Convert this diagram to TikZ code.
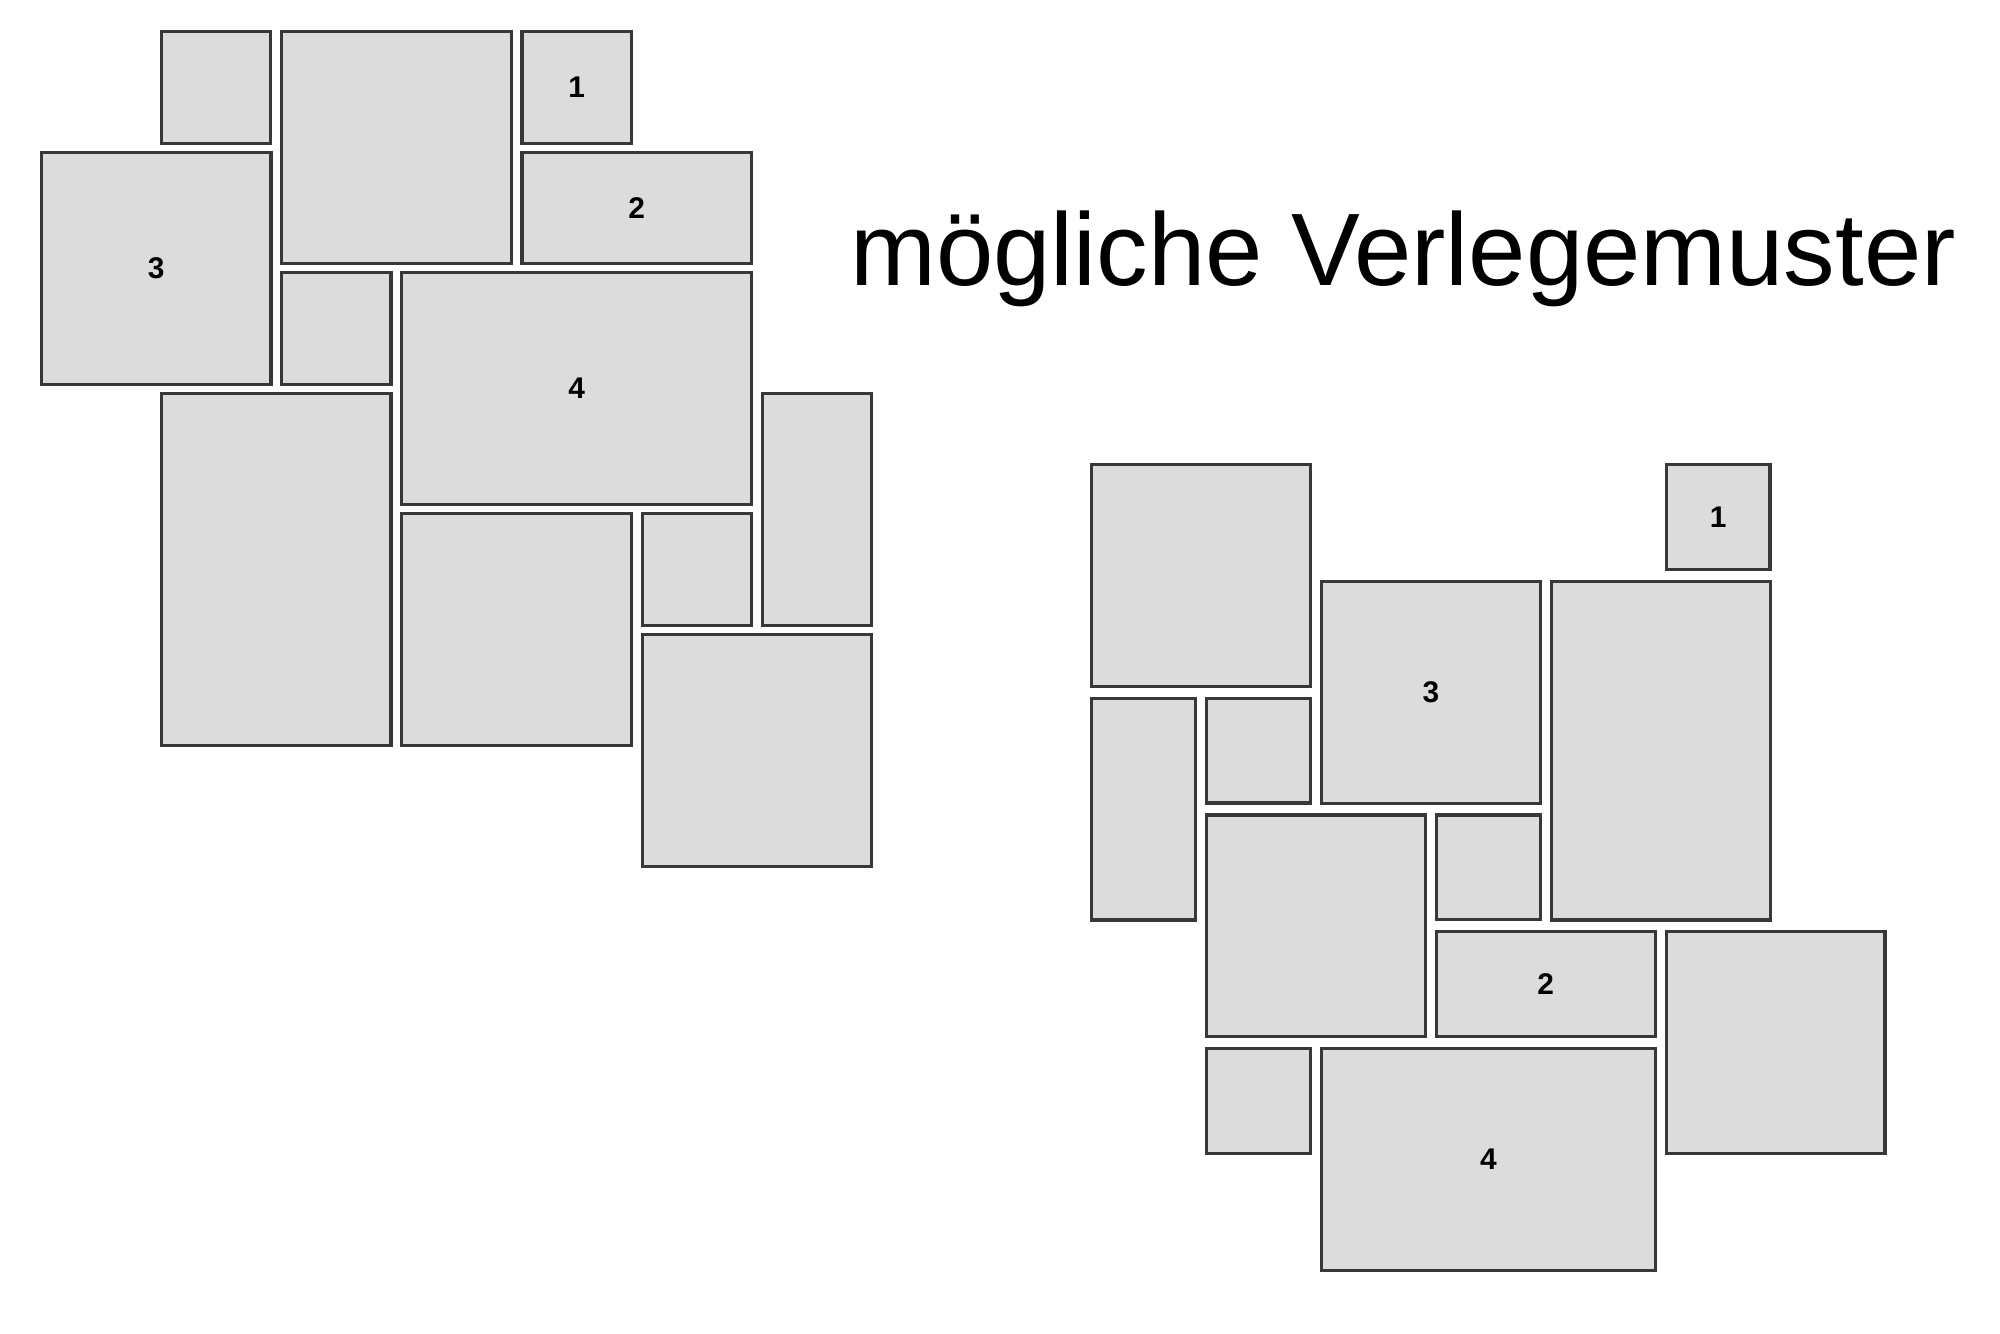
\documentclass[tikz,border=0pt]{standalone}
\usepackage{fontspec}
\setmainfont{Liberation Sans}
\definecolor{tilefill}{HTML}{DCDCDC}
\definecolor{tileline}{HTML}{383838}

\begin{document}
\begin{tikzpicture}[x=0.01cm,y=-0.01cm,
    tile/.style={rectangle,draw=tileline,fill=tilefill,line width=0.9pt,anchor=north west,inner sep=0pt,
      font=\fontsize{8.5}{10}\selectfont\bfseries},
    title/.style={anchor=base west,font=\fontsize{29.3}{35}\selectfont}]
  \useasboundingbox (0,0) rectangle (2000,1333);
  % first pattern
  \foreach \n/\c/\r/\w/\h/\t in {la/1/0/1/1/{},lb/2/0/2/2/{},lc/4/0/1/1/1,ld/0/1/2/2/3,
      le/4/1/2/1/2,lf/2/2/1/1/{},lg/3/2/3/2/4,lh/1/3/2/3/{},li/6/3/1/2/{},
      lj/3/4/2/2/{},lk/5/4/1/1/{},ll/5/5/2/2/{}}
    \node[tile,minimum width={\w*1.201cm-0.11cm},minimum height={\h*1.205cm-0.09cm}]
      (\n) at ({40+\c*120.1},{30+\r*120.5}) {\t};
  % second pattern
  \foreach \n/\c/\r/\w/\h/\t in {ra/0/0/2/2/{},rb/5/0/1/1/1,rc/2/1/2/2/3,rd/4/1/2/3/{},
      re/0/2/1/2/{},rf/1/2/1/1/{},rg/1/3/2/2/{},rh/3/3/1/1/{},ri/3/4/2/1/2,
      rj/5/4/2/2/{},rk/1/5/1/1/{},rl/2/5/3/2/4}
    \node[tile,minimum width={\w*1.149cm-0.11cm},minimum height={\h*1.168cm-0.12cm}]
      (\n) at ({1090+\c*114.9},{463+\r*116.8}) {\t};
  \node[title] (heading) at (838,285) {mögliche Verlegemuster};
\end{tikzpicture}
\end{document}
